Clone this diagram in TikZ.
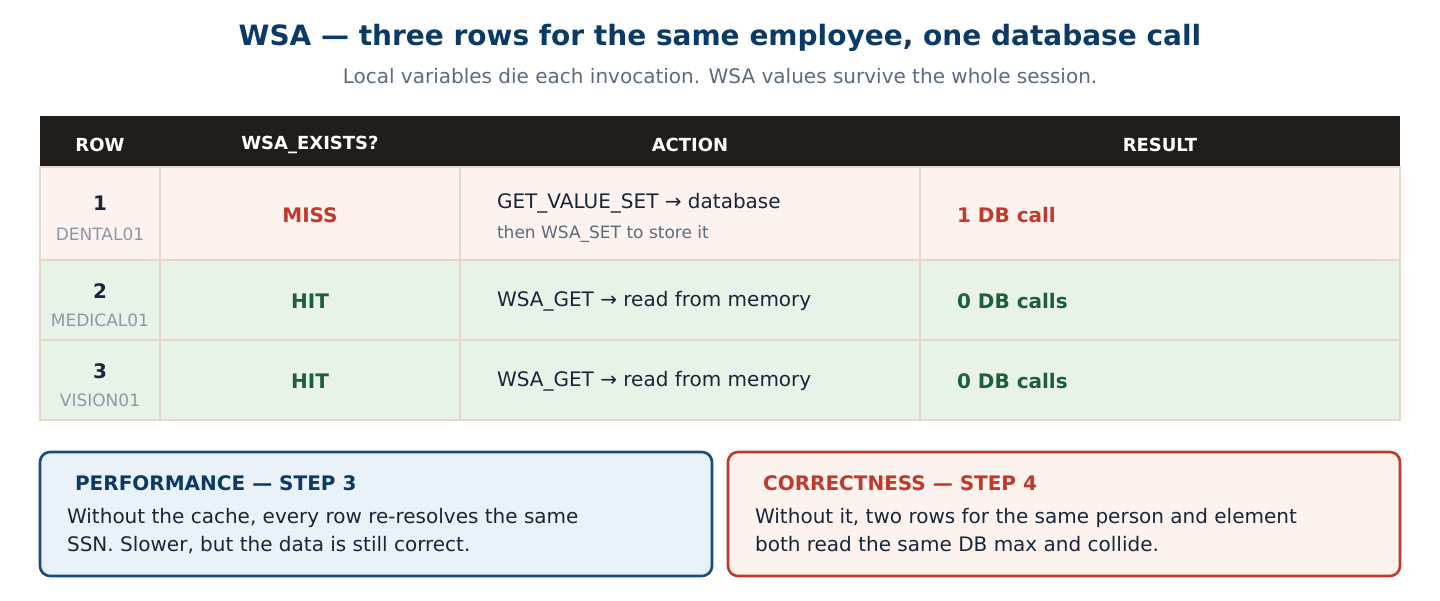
\documentclass[tikz,border=0pt]{standalone}
\usepackage{fontspec}
\setmainfont{DejaVu Sans}
\definecolor{headbg}{HTML}{211D1A}
\definecolor{missbg}{HTML}{FDF3EE}
\definecolor{hitbg}{HTML}{E8F3E8}
\definecolor{grid}{HTML}{E5D8C8}
\definecolor{missred}{HTML}{C0392B}
\definecolor{hitgreen}{HTML}{1E5E3A}
\definecolor{ink}{HTML}{17263A}
\definecolor{titleblue}{HTML}{0B3A66}
\definecolor{subgray}{HTML}{5A6B7E}
\definecolor{lightgray}{HTML}{8A99A8}
\definecolor{perfbg}{HTML}{E9F1F9}
\definecolor{perfline}{HTML}{1A4A80}
\begin{document}
\begin{tikzpicture}[x=0.5pt,y=-0.5pt,
  head/.style={text=white,font=\fontsize{9}{11}\selectfont\bfseries},
  cell/.style={anchor=west,text=ink,font=\fontsize{10}{12}\selectfont},
  note/.style={anchor=west,text=subgray,font=\fontsize{8.5}{10}\selectfont},
  rownum/.style={text=ink,font=\fontsize{10}{12}\selectfont\bfseries},
  rowname/.style={text=lightgray,font=\fontsize{8.5}{10}\selectfont},
  status/.style={font=\fontsize{10}{12}\selectfont\bfseries},
  card/.style={rounded corners=5pt,line width=1.3pt},
  cardhead/.style={anchor=west,font=\fontsize{10}{12}\selectfont\bfseries},
  cardtext/.style={anchor=north west,align=left,text=ink,font=\fontsize{10}{14}\selectfont}]

\useasboundingbox (0,0) rectangle (1440,600);

% title
\node[text=titleblue,font=\fontsize{14}{16}\selectfont\bfseries] (title) at (720,38)
  {WSA — three rows for the same employee, one database call};
\node[text=subgray,font=\fontsize{10}{12}\selectfont] (subtitle) at (720,76)
  {Local variables die each invocation. WSA values survive the whole session.};

% table
\fill[headbg] (40,116) rectangle (1400,167);
\fill[missbg] (40,167) rectangle (1400,260);
\fill[hitbg] (40,260) rectangle (1400,420);
\draw[grid,line width=1pt] (40,167) rectangle (1400,420)
  (40,260) -- (1400,260) (40,340) -- (1400,340);
\foreach \x in {160,460,920}
  \draw[grid,line width=1pt] (\x,167) -- (\x,420);

\node[head] (hrow) at (100,145) {ROW};
\node[head] (hwsa) at (310,145) {WSA\_EXISTS?};
\node[head] (hact) at (690,145) {ACTION};
\node[head] (hres) at (1160,145) {RESULT};

% row 1
\node[rownum] (num1) at (100,203) {1};
\node[rowname] (name1) at (100,234) {DENTAL01};
\node[status,text=missred] (wsa1) at (310,215) {MISS};
\node[cell] (act1) at (490,203) {GET\_VALUE\_SET → database};
\node[note] (act1b) at (490,234) {then WSA\_SET to store it};
\node[status,text=missred,anchor=west] (res1) at (950,215) {1 DB call};

% row 2
\node[rownum] (num2) at (100,291) {2};
\node[rowname] (name2) at (100,320) {MEDICAL01};
\node[status,text=hitgreen] (wsa2) at (310,301) {HIT};
\node[cell] (act2) at (490,301) {WSA\_GET → read from memory};
\node[status,text=hitgreen,anchor=west] (res2) at (950,301) {0 DB calls};

% row 3
\node[rownum] (num3) at (100,371) {3};
\node[rowname] (name3) at (100,400) {VISION01};
\node[status,text=hitgreen] (wsa3) at (310,381) {HIT};
\node[cell] (act3) at (490,381) {WSA\_GET → read from memory};
\node[status,text=hitgreen,anchor=west] (res3) at (950,381) {0 DB calls};

% cards
\draw[card,draw=perfline,fill=perfbg] (40,452) rectangle (712,576);
\node[cardhead,text=titleblue] (perf) at (68,483) {PERFORMANCE — STEP 3};
\node[cardtext] (perftext) at (60,501) {Without the cache, every row re-resolves the same\\SSN. Slower, but the data is still correct.};

\draw[card,draw=missred,fill=missbg] (728,452) rectangle (1400,576);
\node[cardhead,text=missred] (corr) at (756,483) {CORRECTNESS — STEP 4};
\node[cardtext] (corrtext) at (748,501) {Without it, two rows for the same person and element\\both read the same DB max and collide.};
\end{tikzpicture}
\end{document}
